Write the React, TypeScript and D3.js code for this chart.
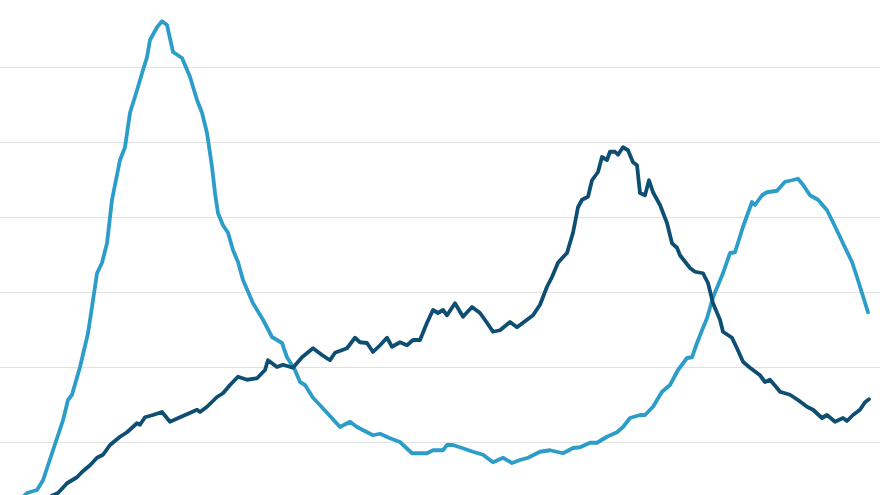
import React from "react";
import * as d3 from "d3";

const W = 880;
const H = 495;

// Grid values
const gridValues = [10, 20, 30, 40, 50, 60];

// Light series (day, value)
const lightDays = [20, 27, 37, 43, 53, 63, 68, 72, 80, 88, 93, 97, 102, 107, 112, 120, 125, 130, 137, 143, 147, 150, 157, 162, 167, 173, 182, 190, 197, 202, 207, 212, 215, 218, 223, 228, 233, 238, 243, 253, 263, 272, 282, 287, 295, 300, 305, 313, 327, 340, 350, 357, 373, 380, 390, 400, 412, 427, 433, 443, 447, 453, 462, 473, 483, 493, 503, 512, 520, 528, 540, 550, 563, 573, 580, 590, 597, 607, 617, 623, 630, 640, 645, 653, 662, 670, 678, 687, 692, 697, 702, 707, 713, 723, 730, 735, 743, 752, 755, 762, 767, 777, 785, 792, 798, 803, 810, 818, 827, 833, 843, 852, 857, 868];
const lightValues = [2.3, 3.2, 3.6, 4.9, 8.9, 12.9, 15.6, 16.3, 20.0, 24.5, 28.9, 32.5, 33.9, 36.5, 42.3, 47.6, 49.3, 53.9, 56.9, 59.6, 61.3, 63.6, 65.3, 66.1, 65.6, 62.0, 61.2, 58.7, 55.6, 53.9, 51.2, 46.7, 43.2, 40.5, 38.9, 37.9, 35.6, 34.0, 31.6, 28.5, 26.3, 24.0, 23.2, 21.3, 19.6, 18.0, 17.6, 15.9, 13.9, 12.0, 12.7, 12.0, 10.9, 11.1, 10.5, 10.0, 8.5, 8.5, 8.9, 8.9, 9.6, 9.6, 9.2, 8.7, 8.3, 7.3, 7.9, 7.2, 7.6, 7.9, 8.7, 8.9, 8.5, 9.2, 9.3, 9.9, 9.9, 10.7, 11.3, 12.0, 13.2, 13.6, 13.6, 14.7, 16.7, 17.6, 19.6, 21.2, 21.3, 23.2, 24.9, 26.5, 29.3, 32.5, 35.2, 35.3, 38.7, 42.0, 41.6, 42.9, 43.3, 43.5, 44.7, 44.9, 45.1, 44.3, 42.9, 42.3, 40.9, 39.3, 36.5, 34.0, 32.0, 27.3];

// Dark series (day, value)
const darkDays = [45, 53, 58, 67, 77, 82, 90, 97, 103, 110, 120, 127, 137, 140, 145, 153, 162, 170, 180, 192, 197, 200, 207, 217, 223, 230, 238, 247, 257, 265, 268, 277, 283, 293, 302, 313, 322, 330, 335, 347, 355, 360, 367, 373, 380, 387, 392, 400, 407, 413, 420, 427, 433, 438, 443, 447, 455, 463, 472, 480, 487, 493, 500, 510, 517, 527, 533, 540, 547, 552, 558, 562, 567, 573, 578, 582, 588, 592, 598, 602, 607, 610, 615, 618, 623, 628, 633, 637, 640, 645, 649, 653, 660, 667, 672, 677, 680, 690, 695, 703, 708, 713, 720, 723, 732, 737, 743, 750, 760, 765, 770, 777, 780, 790, 798, 807, 813, 822, 827, 835, 843, 847, 853, 860, 865, 869];
const darkValues = [2.3, 2.9, 3.2, 4.5, 5.3, 6.0, 6.9, 7.9, 8.3, 9.6, 10.7, 11.3, 12.5, 12.3, 13.3, 13.6, 14.0, 12.7, 13.3, 14.0, 14.3, 14.0, 14.7, 16.0, 16.5, 17.6, 18.7, 18.3, 18.5, 19.6, 20.9, 20.0, 20.3, 19.9, 21.3, 22.5, 21.6, 20.9, 21.9, 22.5, 23.9, 23.3, 23.2, 22.0, 22.9, 23.9, 22.7, 23.3, 22.9, 23.6, 23.6, 25.9, 27.6, 27.2, 27.6, 26.9, 28.5, 26.7, 28.0, 27.2, 25.9, 24.7, 24.9, 26.0, 25.3, 26.3, 26.9, 28.3, 30.7, 32.0, 33.9, 34.5, 35.2, 37.9, 41.3, 42.3, 42.7, 44.9, 46.0, 48.0, 47.6, 48.7, 48.7, 48.3, 49.3, 48.9, 47.3, 46.9, 43.2, 42.9, 44.9, 43.3, 41.6, 39.2, 36.5, 35.9, 34.9, 33.2, 32.7, 32.5, 31.2, 28.5, 26.3, 24.7, 23.9, 22.5, 20.7, 19.9, 18.9, 18.0, 18.3, 17.2, 16.7, 16.3, 15.6, 14.7, 14.3, 13.2, 13.6, 12.7, 13.2, 12.8, 13.6, 14.3, 15.3, 15.7];

const LIGHT = "#2c9dc8";
const DARK = "#0e4e73";

export default function App() {
  const x = d3.scaleLinear().domain([0, 880]).range([0, W]);
  const y = d3.scaleLinear().domain([0, 70]).range([517, -8]);

  const line = d3
    .line<[number, number]>()
    .x((d) => x(d[0]))
    .y((d) => y(d[1]))
    .curve(d3.curveLinear);

  const lightData = lightDays.map((d, i) => [d, lightValues[i]] as [number, number]);
  const darkData = darkDays.map((d, i) => [d, darkValues[i]] as [number, number]);

  return (
    <svg
      width={W}
      height={H}
      style={{ position: "fixed", left: 0, top: 0, background: "#fff" }}
    >
      <rect x={0} y={0} width={W} height={H} fill="#fff" />
      {gridValues.map((g) => (
        <line
          key={g}
          x1={0}
          x2={W}
          y1={Math.round(y(g)) + 0.5}
          y2={Math.round(y(g)) + 0.5}
          stroke="#e2e2e2"
          strokeWidth={1}
        />
      ))}
      <path
        d={line(lightData) || ""}
        fill="none"
        stroke={LIGHT}
        strokeWidth={3.8}
        strokeLinejoin="round"
        strokeLinecap="round"
      />
      <path
        d={line(darkData) || ""}
        fill="none"
        stroke={DARK}
        strokeWidth={3.8}
        strokeLinejoin="round"
        strokeLinecap="round"
      />
    </svg>
  );
}
